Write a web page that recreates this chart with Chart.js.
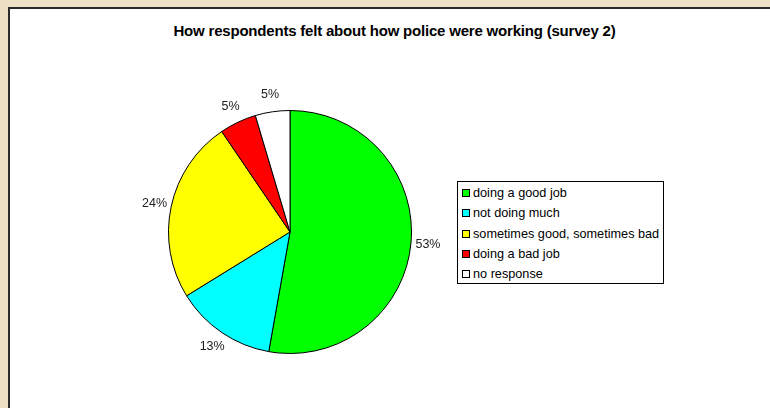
<!DOCTYPE html>
<html lang="en">
<head>
    <meta charset="UTF-8">
    <title>Police survey 2</title>
    <style>
        body {
            margin: 0;
            width: 770px;
            height: 408px;
            overflow: hidden;
            background-color: #ede0c5;
            font-family: Arial, "Liberation Sans", sans-serif;
            color: #000;
        }
        #frame {
            position: absolute;
            left: 8px;
            top: 7px;
            width: 800px;
            height: 460px;
            background: #fff;
            border: 2px solid #2a2a2a;
            box-shadow: 1px 1px 0 #8a8a8a;
        }
        #title {
            position: absolute;
            left: 0;
            top: 31px;
            width: 789px;
            text-align: center;
            font-weight: bold;
            font-size: 15px;
            letter-spacing: -0.2px;
            line-height: 0;
        }
        #pie {
            position: absolute;
            left: 120px;
            top: 62px;
        }
        #legend {
            position: absolute;
            left: 457px;
            top: 181px;
            width: 205px;
            height: 101px;
            border: 1px solid #000;
            background: #fff;
            font-size: 12.7px;
        }
        .row {
            position: absolute;
            left: 4px;
            height: 14px;
            line-height: 14px;
            white-space: nowrap;
        }
        .sw {
            display: inline-block;
            width: 6px;
            height: 6px;
            border: 1px solid #000;
            margin-right: 3px;
            vertical-align: 0px;
        }
    </style>
</head>
<body>
    <div id="frame"></div>
    <div id="title">How respondents felt about how police were working (survey 2)</div>
    <canvas id="pie" width="340" height="340"></canvas>
    <div id="legend"></div>

    <script src="https://cdn.jsdelivr.net/npm/chart.js@4.4.1/dist/chart.umd.min.js"></script>
    <script>
        const categories = ['doing a good job', 'not doing much', 'sometimes good, sometimes bad', 'doing a bad job', 'no response'];
        const shares = [52.8, 13.4, 24.3, 4.9, 4.6];
        const colors = ['#00ff00', '#00ffff', '#ffff00', '#ff0000', '#ffffff'];

        // legend box as plain html
        const legend = document.getElementById('legend');
        categories.forEach((name, i) => {
            const row = document.createElement('div');
            row.className = 'row';
            row.style.top = (4 + i * 20.3) + 'px';
            row.innerHTML = '<span class="sw" style="background:' + colors[i] + '"></span>' + name;
            legend.appendChild(row);
        });

        const total = shares.reduce((a, b) => a + b, 0);

        // percentage labels outside each slice
        const outsideLabels = {
            id: 'outsideLabels',
            afterDatasetsDraw(chart) {
                const ctx = chart.ctx;
                const meta = chart.getDatasetMeta(0);
                ctx.save();
                ctx.font = '12.5px Arial, "Liberation Sans", sans-serif';
                ctx.fillStyle = '#222';
                ctx.textAlign = 'center';
                ctx.textBaseline = 'middle';
                meta.data.forEach((arc, i) => {
                    const p = arc.getProps(['x', 'y', 'startAngle', 'endAngle', 'outerRadius'], true);
                    const mid = (p.startAngle + p.endAngle) / 2;
                    const d = p.outerRadius + 17;
                    const txt = Math.round(shares[i] / total * 100) + '%';
                    ctx.fillText(txt, p.x + Math.cos(mid) * d, p.y + Math.sin(mid) * d);
                });
                ctx.restore();
            }
        };

        new Chart(document.getElementById('pie'), {
            type: 'pie',
            data: {
                labels: categories,
                datasets: [{
                    data: shares,
                    backgroundColor: colors,
                    borderColor: '#000',
                    borderWidth: 1
                }]
            },
            options: {
                responsive: false,
                animation: false,
                devicePixelRatio: 1,
                layout: { padding: 48 },
                plugins: {
                    legend: { display: false },
                    tooltip: { enabled: false },
                    title: { display: false }
                }
            },
            plugins: [outsideLabels]
        });
    </script>
</body>
</html>
